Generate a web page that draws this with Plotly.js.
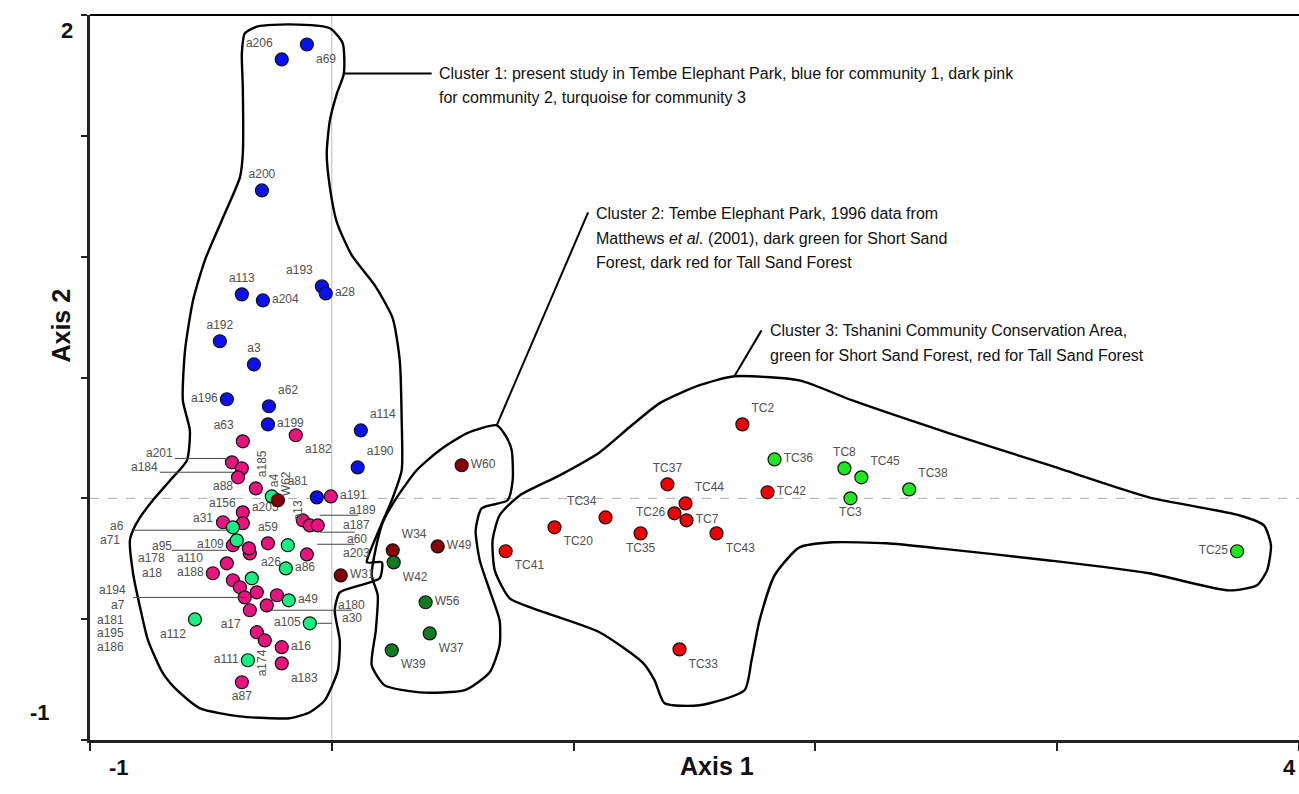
<!DOCTYPE html>
<html><head><meta charset="utf-8">
<script src="https://cdn.plot.ly/plotly-3.0.1.min.js"></script>
<style>html,body{margin:0;padding:0;background:#fff}#chart{width:1299px;height:794px}</style>
</head><body><div id="chart"></div>
<script>
// ---- Cluster 1, community 1 (blue)
const blueNames = ['a206','a69','a200','a113','a204','a193','a28','a192','a3','a196','a62','a199','a114','a190','a81'];
const blueX = [-0.207,-0.103,-0.289,-0.372,-0.285,-0.041,-0.025,-0.463,-0.322,-0.434,-0.260,-0.264,0.120,0.107,-0.062];
const blueY = [1.816,1.878,1.274,0.844,0.819,0.877,0.848,0.650,0.554,0.410,0.381,0.306,0.281,0.128,0.004];
const bluePos = ['top left','bottom right','top center','top center','middle right','top left','middle right','top center','top center','middle left','top right','middle right','top right','top right','top left'];

// ---- Cluster 1, community 2 (dark pink)
const pinkNames = ['a63','a182','','','','','','','a205','a109','','a59','','','','','','a188','','','','','','','a17','','','a16','a183','a87','a191',''];
const pinkX = [-0.368,-0.149,-0.413,-0.372,-0.388,-0.314,-0.368,-0.450,-0.368,-0.409,-0.339,-0.264,-0.120,-0.091,-0.058,-0.103,-0.434,-0.492,-0.409,-0.380,-0.360,-0.310,-0.227,-0.269,-0.339,-0.310,-0.277,-0.207,-0.207,-0.372,-0.004,-0.343];
const pinkY = [0.236,0.261,0.149,0.124,0.087,0.041,-0.058,-0.099,-0.103,-0.194,-0.228,-0.186,-0.091,-0.112,-0.112,-0.232,-0.269,-0.310,-0.339,-0.368,-0.410,-0.389,-0.401,-0.443,-0.463,-0.554,-0.588,-0.616,-0.683,-0.761,0.008,-0.207];
const pinkPos = ['top left','bottom right','top center','top center','top center','middle left','top left','top left','top right','middle left','top center','top center','top center','top center','top center','top center','top center','middle left','top center','top center','top center','top center','top center','top center','bottom left','top center','top center','middle right','bottom right','bottom center','middle right','top center'];

// ---- Cluster 1, community 3 (turquoise)
const turqNames = ['','','','','a86','a26','a49','a105','a112','a111'];
const turqX = [-0.248,-0.409,-0.393,-0.182,-0.190,-0.331,-0.178,-0.091,-0.566,-0.347];
const turqY = [0.008,-0.120,-0.174,-0.194,-0.290,-0.331,-0.422,-0.517,-0.501,-0.670];
const turqPos = ['top center','top center','top center','top center','middle right','top right','middle right','middle left','bottom left','middle left'];

// ---- Cluster 2 (Matthews et al. 2001)
const tallWNames = ['','W31','W34','W49','W60'];
const tallWX = [-0.223,0.037,0.252,0.438,0.537];
const tallWY = [-0.008,-0.319,-0.215,-0.199,0.137];
const tallWPos = ['top center','middle right','top right','middle right','middle right'];
const shortWNames = ['W42','W56','W37','W39'];
const shortWX = [0.256,0.388,0.405,0.248];
const shortWY = [-0.265,-0.430,-0.559,-0.629];
const shortWPos = ['bottom right','middle right','bottom right','bottom right'];

// ---- Cluster 3 (Tshanini)
const tallTCNames = ['TC2','TC37','TC44','TC26','TC7','TC34','TC20','TC35','TC43','TC41','TC42','TC33'];
const tallTCX = [1.698,1.388,1.463,1.417,1.467,1.132,0.921,1.277,1.591,0.719,1.802,1.438];
const tallTCY = [0.306,0.058,-0.021,-0.062,-0.091,-0.079,-0.120,-0.145,-0.145,-0.219,0.025,-0.625];
const tallTCPos = ['top right','top center','top right','middle left','middle right','top left','bottom right','bottom center','bottom right','bottom right','middle right','bottom right'];
const shortTCNames = ['TC36','TC8','TC45','TC38','TC3','TC25'];
const shortTCX = [1.831,2.120,2.190,2.388,2.145,3.744];
const shortTCY = [0.161,0.124,0.087,0.037,0.000,-0.219];
const shortTCPos = ['middle right','top center','top right','top right','bottom center','middle left'];

// ---- Cluster outlines (hand drawn hulls)
const hull1X = [-0.360,-0.306,-0.174,-0.008,0.045,0.050,0.021,-0.008,-0.021,-0.008,0.021,0.083,0.178,0.252,0.281,0.289,0.289,0.248,0.198,0.157,0.145,0.207,0.198,0.116,0.033,0.012,0.033,0.025,-0.029,-0.091,-0.174,-0.380,-0.545,-0.640,-0.698,-0.760,-0.793,-0.822,-0.835,-0.822,-0.793,-0.740,-0.669,-0.599,-0.587,-0.616,-0.607,-0.574,-0.525,-0.455,-0.380,-0.368,-0.368,-0.372,-0.360];
const hull1Y = [1.924,1.953,1.961,1.945,1.883,1.758,1.675,1.564,1.427,1.287,1.142,1.005,0.881,0.745,0.571,0.323,0.116,-0.008,-0.124,-0.223,-0.265,-0.265,-0.331,-0.360,-0.389,-0.463,-0.588,-0.712,-0.836,-0.885,-0.910,-0.902,-0.869,-0.794,-0.724,-0.588,-0.451,-0.310,-0.174,-0.132,-0.079,-0.008,0.074,0.157,0.281,0.405,0.612,0.819,0.985,1.150,1.328,1.427,1.700,1.841,1.924];
const hull2X = [0.682,0.558,0.446,0.351,0.269,0.211,0.182,0.165,0.190,0.182,0.165,0.219,0.364,0.550,0.653,0.694,0.694,0.653,0.612,0.595,0.620,0.727,0.748,0.744,0.723,0.682];
const hull2Y = [0.302,0.269,0.199,0.116,0.004,-0.099,-0.207,-0.319,-0.401,-0.546,-0.691,-0.774,-0.803,-0.794,-0.720,-0.608,-0.505,-0.381,-0.257,-0.132,-0.041,-0.008,0.074,0.199,0.252,0.302];
const hull3X = [1.665,1.934,2.153,2.554,2.967,3.380,3.752,3.855,3.884,3.868,3.826,3.711,3.380,2.967,2.512,2.293,2.070,1.934,1.831,1.769,1.736,1.707,1.521,1.376,1.335,1.285,1.107,0.880,0.736,0.674,0.665,0.694,0.777,0.942,1.107,1.231,1.355,1.521,1.665];
const hull3Y = [0.505,0.488,0.405,0.269,0.137,0.004,-0.070,-0.112,-0.194,-0.298,-0.360,-0.381,-0.310,-0.257,-0.207,-0.186,-0.182,-0.203,-0.319,-0.505,-0.670,-0.794,-0.856,-0.848,-0.753,-0.679,-0.554,-0.472,-0.414,-0.298,-0.174,-0.070,0.012,0.095,0.190,0.294,0.393,0.468,0.505];

// ---- Callout labels for crowded points
const calloutText = ['a201','a184','a88','a156','a31','a6','a71','a95','a178','a18','a110','a194','a7','a181','a195','a186','a189','a187','a60','a203','a180','a30'];
const calloutX = [-0.711,-0.773,-0.450,-0.450,-0.533,-0.888,-0.917,-0.702,-0.744,-0.744,-0.587,-0.905,-0.884,-0.917,-0.917,-0.917,0.128,0.103,0.103,0.103,0.083,0.083];
const calloutY = [0.186,0.128,0.050,-0.021,-0.083,-0.116,-0.174,-0.199,-0.248,-0.310,-0.248,-0.379,-0.440,-0.505,-0.559,-0.616,-0.050,-0.110,-0.168,-0.226,-0.443,-0.496];
// leader segments (horizontal): x0, x1, y
const leaderX0 = [-0.649,-0.711,-0.822,-0.661,-0.822,-0.050,-0.050,-0.060,-0.270,-0.060];
const leaderX1 = [-0.421,-0.409,-0.421,-0.434,-0.351,0.110,0.095,0.095,0.083,0.000];
const leaderY  = [0.165,0.108,-0.132,-0.215,-0.410,-0.070,-0.140,-0.190,-0.463,-0.517];
// vertical labels
const vertText = ['a185','a4','W62','a13','a174'];
const vertX = [-0.289,-0.236,-0.186,-0.140,-0.285];
const vertY = [0.145,0.074,0.062,-0.050,-0.679];

// ---- Cluster notes
const noteText = ['Cluster 1: present study in Tembe Elephant Park, blue for community 1, dark pink','for community 2, turquoise for community 3',
 'Cluster 2: Tembe Elephant Park, 1996 data from','Matthews <i>et al.</i> (2001), dark green for Short Sand','Forest, dark red for Tall Sand Forest',
 'Cluster 3: Tshanini Community Conservation Area,','green for Short Sand Forest, red for Tall Sand Forest'];
const noteX = [0.434,0.434,1.083,1.083,1.083,1.802,1.802];
const noteY = [1.758,1.659,1.179,1.076,0.976,0.695,0.592];
const noteLeaderX0 = [0.050,0.682,1.665];
const noteLeaderY0 = [1.758,0.302,0.505];
const noteLeaderX1 = [0.413,1.060,1.777];
const noteLeaderY1 = [1.758,1.183,0.695];

const labelFont = {family:'Liberation Sans, Arial, sans-serif', size:12, color:'#505050'};
function pts(x,y,names,pos,color){
  return {type:'scatter',mode:'markers+text',x:x,y:y,text:names,textposition:pos,textfont:labelFont,cliponaxis:false,
    marker:{size:13,color:color,line:{color:'#111',width:1.2}},hoverinfo:'text',showlegend:false};
}
function hull(x,y){
  return {type:'scatter',mode:'lines',x:x,y:y,line:{color:'#000',width:2.4,shape:'spline',smoothing:0.6},hoverinfo:'skip',showlegend:false};
}
const traces = [
  hull(hull1X,hull1Y),hull(hull2X,hull2Y),hull(hull3X,hull3Y),
  pts(blueX,blueY,blueNames,bluePos,'#0a10ee'),
  pts(pinkX,pinkY,pinkNames,pinkPos,'#e8137e'),
  pts(turqX,turqY,turqNames,turqPos,'#17ef80'),
  pts(tallWX,tallWY,tallWNames,tallWPos,'#850008'),
  pts(shortWX,shortWY,shortWNames,shortWPos,'#127a22'),
  pts(tallTCX,tallTCY,tallTCNames,tallTCPos,'#f20000'),
  pts(shortTCX,shortTCY,shortTCNames,shortTCPos,'#1ee81e')
];

const shapes = [
  {type:'line',xref:'x',yref:'paper',x0:0,x1:0,y0:0,y1:1,line:{color:'#bbbbbb',width:1},layer:'below'},
  {type:'line',xref:'paper',yref:'y',x0:0,x1:1,y0:0,y1:0,line:{color:'#aaaaaa',width:1,dash:'dash'},layer:'below'},
  {type:'line',xref:'paper',yref:'paper',x0:0,x1:1,y0:1,y1:1,line:{color:'#000',width:2}}
];
for(let i=0;i<leaderX0.length;i++){
  shapes.push({type:'line',x0:leaderX0[i],x1:leaderX1[i],y0:leaderY[i],y1:leaderY[i],line:{color:'#444',width:1}});
}
for(let i=0;i<noteLeaderX0.length;i++){
  shapes.push({type:'line',x0:noteLeaderX0[i],x1:noteLeaderX1[i],y0:noteLeaderY0[i],y1:noteLeaderY1[i],line:{color:'#000',width:2}});
}
const annotations = [];
calloutText.forEach((t,i)=>annotations.push({x:calloutX[i],y:calloutY[i],text:t,showarrow:false,font:labelFont}));
vertText.forEach((t,i)=>annotations.push({x:vertX[i],y:vertY[i],text:t,showarrow:false,textangle:-90,font:labelFont}));
noteText.forEach((t,i)=>annotations.push({x:noteX[i],y:noteY[i],text:t,showarrow:false,xanchor:'left',yanchor:'middle',font:{family:'Liberation Sans, Arial, sans-serif',size:16,color:'#111'}}));
const bold = {family:'Liberation Sans, Arial, sans-serif',size:22,color:'#111',weight:'bold'};
const titleFont = {family:'Liberation Sans, Arial, sans-serif',size:25,color:'#111',weight:'bold'};
annotations.push({x:-0.88,xref:'x',y:-0.058,yref:'paper',text:'<b>-1</b>',showarrow:false,font:bold});
annotations.push({x:3.96,xref:'x',y:-0.058,yref:'paper',text:'<b>4</b>',showarrow:false,font:bold});
annotations.push({x:-0.026,xref:'paper',y:1.936,yref:'y',text:'<b>2</b>',showarrow:false,font:bold});
annotations.push({x:-0.051,xref:'paper',y:-0.885,yref:'y',text:'<b>-1</b>',showarrow:false,font:bold});
annotations.push({x:1.595,xref:'x',y:-0.058,yref:'paper',text:'<b>Axis 1</b>',showarrow:false,font:titleFont});
annotations.push({x:-0.037,xref:'paper',y:0.716,yref:'y',text:'<b>Axis 2</b>',showarrow:false,textangle:-90,font:titleFont});

const layout = {
  width:1299,height:794,margin:{l:90,r:0,t:15,b:54},
  paper_bgcolor:'#fff',plot_bgcolor:'#fff',
  xaxis:{range:[-1,4],showgrid:false,zeroline:false,showline:true,linecolor:'#222',linewidth:3,ticks:'outside',ticklen:8,tickcolor:'#222',tickwidth:2,tickvals:[-1,0,1,2,3,4],showticklabels:false},
  yaxis:{range:[-1,2],showgrid:false,zeroline:false,showline:true,linecolor:'#222',linewidth:3,ticks:'outside',ticklen:6,tickcolor:'#222',tickwidth:2,tickvals:[-1,-0.5,0,0.5,1,1.5,2],showticklabels:false},
  shapes:shapes,annotations:annotations,
  font:{family:'Liberation Sans, Arial, sans-serif'}
};
Plotly.newPlot('chart',traces,layout,{displayModeBar:false,staticPlot:true});
</script></body></html>
